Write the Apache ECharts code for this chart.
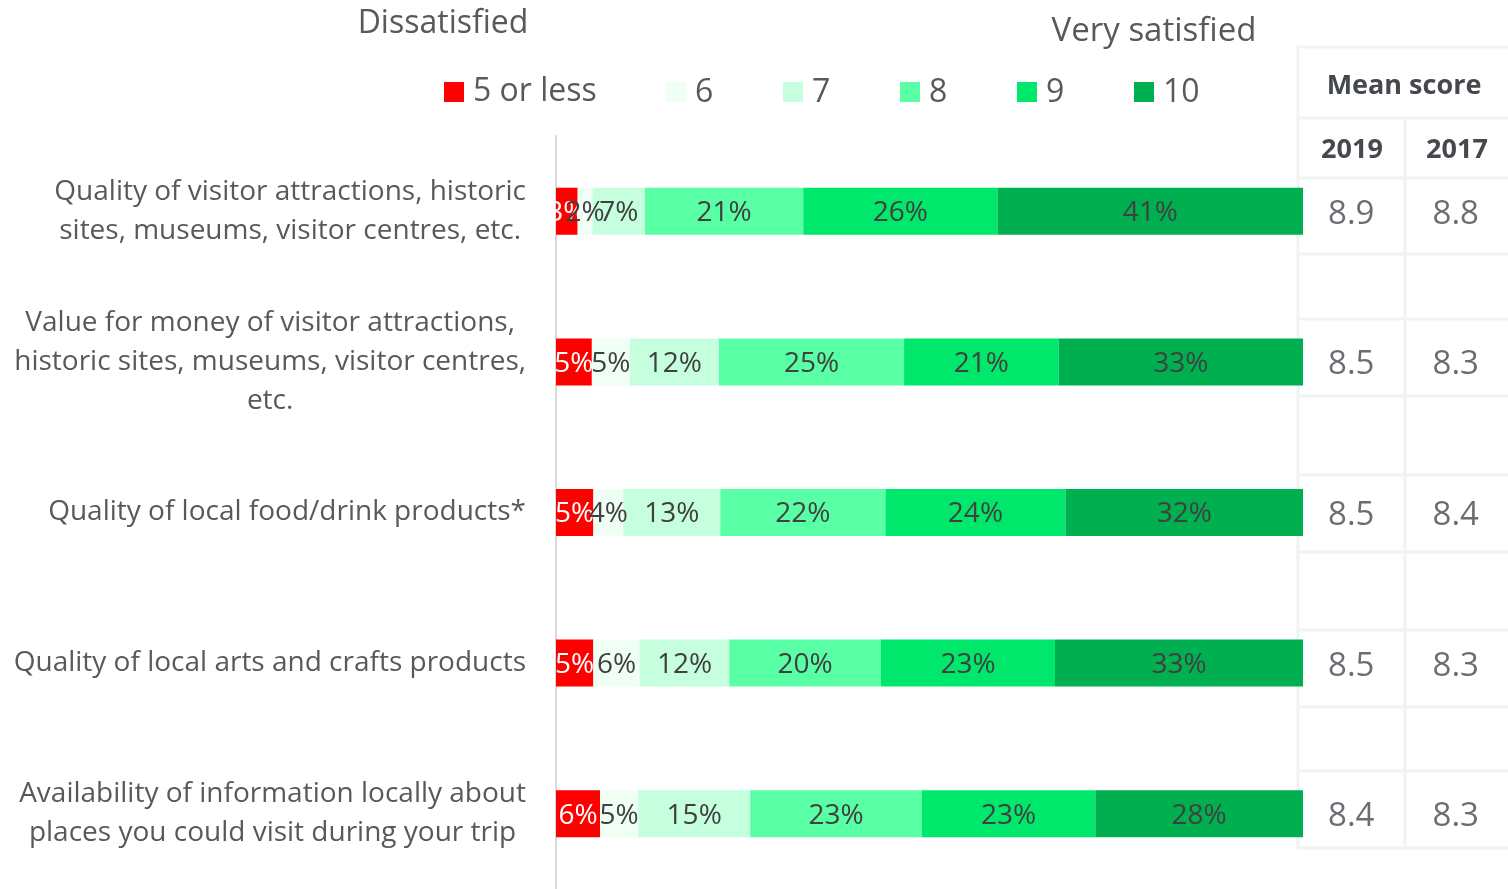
<!DOCTYPE html>
<html><head><meta charset="utf-8">
<script src="https://cdn.jsdelivr.net/npm/echarts@6/dist/echarts.min.js"></script>
<style>html,body{margin:0;padding:0;background:#fff}#c{width:1508px;height:889px}</style>
</head><body><div id="c"></div>
<script>
const categories = [
  'Quality of visitor attractions, historic\nsites, museums, visitor centres, etc.',
  'Value for money of visitor attractions,\nhistoric sites, museums, visitor centres,\netc.',
  'Quality of local food/drink products*',
  'Quality of local arts and crafts products',
  'Availability of information locally about\nplaces you could visit during your trip'
];
const seriesNames = ['5 or less', '6', '7', '8', '9', '10'];
const s5  = [2.9, 4.8, 5.0, 5.0, 5.9];
const s6  = [2.0, 5.1, 4.0, 6.2, 5.1];
const s7  = [7.0, 11.9, 13.0, 12.0, 15.0];
const s8  = [21.2, 24.8, 22.1, 20.3, 23.0];
const s9  = [26.0, 20.7, 24.1, 23.3, 23.2];
const s10 = [40.9, 32.7, 31.8, 33.2, 27.8];
const mean2019 = [8.9, 8.5, 8.5, 8.5, 8.4];
const mean2017 = [8.8, 8.3, 8.4, 8.3, 8.3];
const tableTitle = 'Mean score';
const yearLabels = ['2019', '2017'];

const colors = ['#FF0000', '#EFFFF4', '#C6FFDD', '#58FFA4', '#00E86B', '#00B050'];
const seriesValues = [s5, s6, s7, s8, s9, s10];
const FONT = 'Open Sans';
const TFONT = 'Open Sans';

const barSeries = seriesNames.map((n, i) => ({
  name: n, type: 'bar', stack: 'total', barWidth: 47,
  xAxisIndex: 0, yAxisIndex: 0,
  itemStyle: { color: colors[i] },
  label: {
    show: true, position: 'inside', offset: [0, 2],
    formatter: p => Math.round(p.value) + '%',
    color: i === 0 ? '#ffffff' : '#404040',
    fontFamily: FONT, fontSize: 28
  },
  emphasis: { disabled: true },
  data: seriesValues[i]
}));

const tableSeries = [mean2019, mean2017].map((arr, j) => ({
  type: 'scatter', xAxisIndex: 1, yAxisIndex: 1, symbolSize: 0,
  label: {
    show: true, position: 'inside', offset: [0, 3],
    formatter: p => arr[p.dataIndex].toFixed(1),
    color: '#45494e', fontFamily: TFONT, fontSize: 33
  },
  data: arr.map((v, k) => [j + 0.5, categories[k]])
}));

const LINE = '#F2F2F2';
const hLines = [47, 118, 178, 254, 319, 396, 475, 552, 630, 707, 771, 848];
const graphics = [];
hLines.forEach(y => graphics.push({ type: 'line', shape: { x1: 1297, y1: y, x2: 1508, y2: y }, style: { stroke: LINE, lineWidth: 3 }, silent: true }));
graphics.push({ type: 'line', shape: { x1: 1298, y1: 47, x2: 1298, y2: 849 }, style: { stroke: LINE, lineWidth: 3 }, silent: true });
graphics.push({ type: 'line', shape: { x1: 1405, y1: 118, x2: 1405, y2: 849 }, style: { stroke: LINE, lineWidth: 3 }, silent: true });
graphics.push({ type: 'text', x: 1404, y: 86, style: { text: tableTitle, fontFamily: TFONT, fontWeight: 'bold', fontSize: 27, fill: '#45494e', align: 'center', verticalAlign: 'middle' } });
graphics.push({ type: 'text', x: 1352, y: 150, style: { text: yearLabels[0], fontFamily: TFONT, fontWeight: 'bold', fontSize: 27, fill: '#45494e', align: 'center', verticalAlign: 'middle' } });
graphics.push({ type: 'text', x: 1457, y: 150, style: { text: yearLabels[1], fontFamily: TFONT, fontWeight: 'bold', fontSize: 27, fill: '#45494e', align: 'center', verticalAlign: 'middle' } });
graphics.push({ type: 'text', x: 443, y: 24, style: { text: 'Dissatisfied', fontFamily: FONT, fontSize: 32, fill: '#595959', align: 'center', verticalAlign: 'middle' } });
graphics.push({ type: 'text', x: 1154, y: 32, style: { text: 'Very satisfied', fontFamily: FONT, fontSize: 33, fill: '#595959', align: 'center', verticalAlign: 'middle' } });

const chart = echarts.init(document.getElementById('c'), null, { renderer: 'canvas' });
chart.setOption({
  animation: false,
  backgroundColor: '#ffffff',
  legend: [
    { data: [seriesNames[0]], left: 444, top: 76, padding: 0, itemWidth: 20, itemHeight: 20, icon: 'rect',
      textStyle: { fontFamily: FONT, fontSize: 32, color: '#595959', lineHeight: 30, padding: [2, 0, 0, 4] } },
    { data: seriesNames.slice(1), left: 666, top: 76, padding: 0, itemWidth: 20, itemHeight: 20, icon: 'rect', itemGap: 38,
      formatter: '{a|{name}}',
      textStyle: { fontFamily: FONT, fontSize: 32, color: '#595959', lineHeight: 30, padding: [2, 0, 0, 4],
        rich: { a: { width: 50, fontFamily: FONT, fontSize: 32, color: '#595959', lineHeight: 30 } } } }
  ],
  grid: [
    { left: 556, width: 747, top: 136, height: 759, containLabel: false },
    { left: 1299, width: 209, top: 136, height: 759, containLabel: false }
  ],
  xAxis: [
    { type: 'value', gridIndex: 0, min: 0, max: 100, show: false },
    { type: 'value', gridIndex: 1, min: 0, max: 2, show: false }
  ],
  yAxis: [
    { type: 'category', gridIndex: 0, data: categories, inverse: true,
      axisLine: { show: true, lineStyle: { color: '#D9D9D9', width: 2 } },
      axisTick: { show: false },
      axisLabel: {
        margin: 30, align: 'right',
        formatter: v => v.split('\n').map(l => '{c|' + l + '}').join('\n'),
        rich: { c: { align: 'center', fontFamily: FONT, fontSize: 28, color: '#595959', lineHeight: 39 } }
      } },
    { type: 'category', gridIndex: 1, data: categories, inverse: true, show: false }
  ],
  graphic: graphics,
  series: barSeries.concat(tableSeries)
});
</script>
</body></html>
